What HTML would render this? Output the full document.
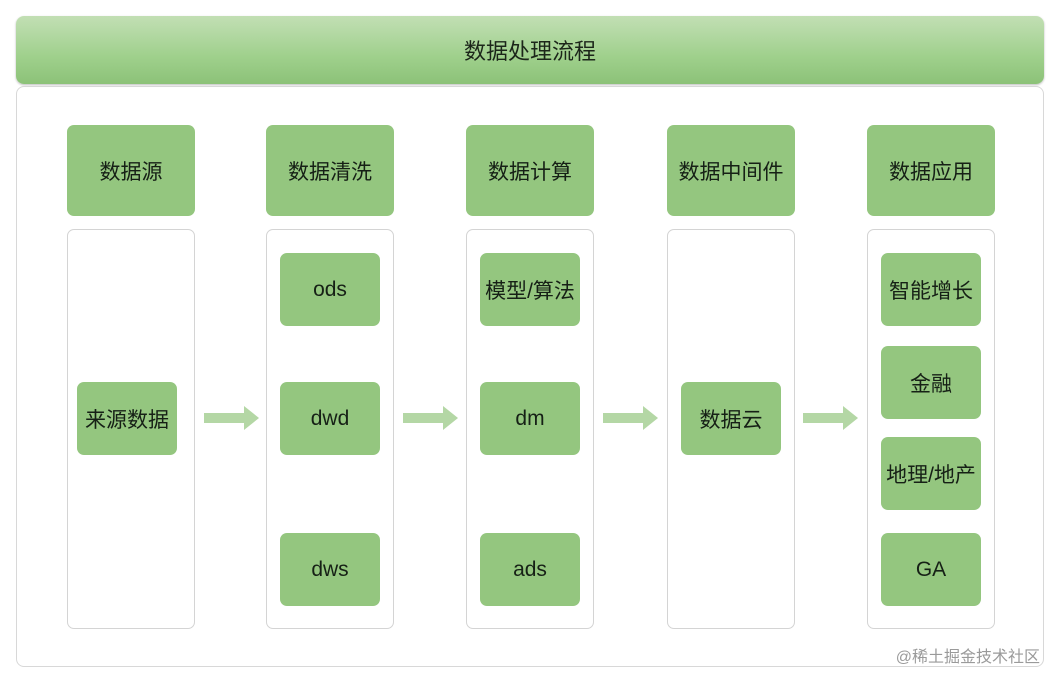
<!DOCTYPE html>
<html><head><meta charset="utf-8"><style>
body{margin:0;width:1062px;height:685px;background:#fff;position:relative;overflow:hidden;font-family:"Liberation Sans","Noto Sans CJK SC",sans-serif;}
div{position:absolute;box-sizing:border-box;}
.hdr{left:16px;top:16px;width:1028px;height:68px;border-radius:8px;background:linear-gradient(#c2dfb4,#9fd08c 60%,#8cc278);display:flex;align-items:center;justify-content:center;font-size:22px;color:#1c261a;box-shadow:0 1px 2px #bbb;}
.panel{left:16px;top:86px;width:1028px;height:581px;border:1px solid #d8d8d8;border-radius:8px;}
.g{background:#94c67f;border-radius:7px;display:flex;align-items:center;justify-content:center;font-size:21px;color:#162016;}
.h{width:128px;height:91px;top:125px;}
.c{width:128px;height:400px;top:229px;border:1px solid #d4d4d4;border-radius:7px;}
.b{width:100px;height:73px;}
</style></head><body>
<div class="hdr">数据处理流程</div>
<div class="panel"></div>

<div class="g h" style="left:67px">数据源</div>
<div class="g h" style="left:266px">数据清洗</div>
<div class="g h" style="left:466px">数据计算</div>
<div class="g h" style="left:667px">数据中间件</div>
<div class="g h" style="left:867px">数据应用</div>

<div class="c" style="left:67px"></div>
<div class="c" style="left:266px"></div>
<div class="c" style="left:466px"></div>
<div class="c" style="left:667px"></div>
<div class="c" style="left:867px"></div>

<div class="g b" style="left:77px;top:382px">来源数据</div>
<div class="g b" style="left:280px;top:253px">ods</div>
<div class="g b" style="left:280px;top:382px">dwd</div>
<div class="g b" style="left:280px;top:533px">dws</div>
<div class="g b" style="left:480px;top:253px">模型/算法</div>
<div class="g b" style="left:480px;top:382px">dm</div>
<div class="g b" style="left:480px;top:533px">ads</div>
<div class="g b" style="left:681px;top:382px">数据云</div>
<div class="g b" style="left:881px;top:253px">智能增长</div>
<div class="g b" style="left:881px;top:346px">金融</div>
<div class="g b" style="left:881px;top:437px">地理/地产</div>
<div class="g b" style="left:881px;top:533px">GA</div>

<svg width="1062" height="685" style="position:absolute;left:0;top:0">
<g fill="#b4d7a5">
<polygon points="204,413 244,413 244,406 259,418 244,430 244,423 204,423"/>
<polygon points="403,413 443,413 443,406 458,418 443,430 443,423 403,423"/>
<polygon points="603,413 643,413 643,406 658,418 643,430 643,423 603,423"/>
<polygon points="803,413 843,413 843,406 858,418 843,430 843,423 803,423"/>
</g>
<text x="1040" y="662" text-anchor="end" font-size="16" fill="#9a9a9a" font-family="Liberation Sans,Noto Sans CJK SC,sans-serif">@稀土掘金技术社区</text>
</svg>
</body></html>
